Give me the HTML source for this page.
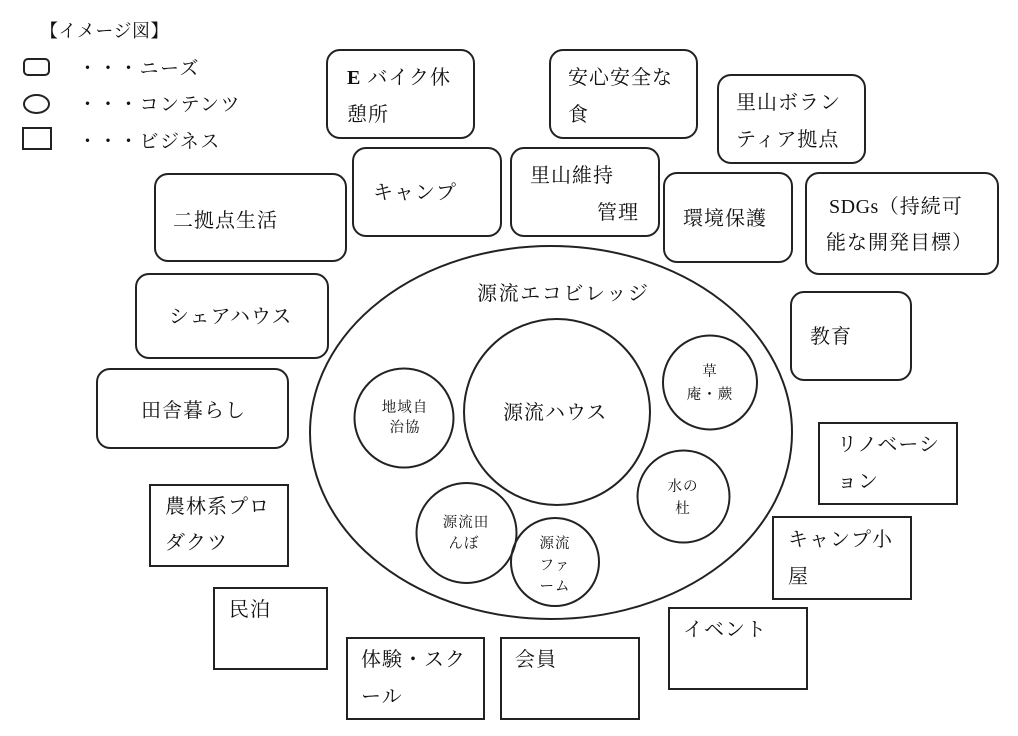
<!DOCTYPE html>
<html><head><meta charset="utf-8">
<style>
html,body{margin:0;padding:0;background:#fff;}
svg{display:block;}
text{font-family:"Liberation Serif","Noto Serif CJK SC",serif;fill:#111;}
.t{font-size:20px;letter-spacing:1px;}
.s{font-size:14.5px;letter-spacing:1px;}
.l{font-size:18px;letter-spacing:0.5px;}
</style></head>
<body>
<svg width="1018" height="736" viewBox="0 0 1018 736" xmlns="http://www.w3.org/2000/svg">
<g fill="none" stroke="#222" stroke-width="2">
  <!-- legend shapes -->
  <rect x="24" y="59" width="25" height="16" rx="4"/>
  <ellipse cx="36.5" cy="104" rx="12.5" ry="9"/>
  <rect x="23" y="128" width="28" height="21"/>
  <!-- rounded boxes -->
  <rect x="327" y="50" width="147" height="88" rx="13"/>
  <rect x="550" y="50" width="147" height="88" rx="13"/>
  <rect x="718" y="75" width="147" height="88" rx="13"/>
  <rect x="353" y="148" width="148" height="88" rx="13"/>
  <rect x="511" y="148" width="148" height="88" rx="13"/>
  <rect x="664" y="173" width="128" height="89" rx="13"/>
  <rect x="806" y="173" width="192" height="101" rx="13"/>
  <rect x="155" y="174" width="191" height="87" rx="13"/>
  <rect x="136" y="274" width="192" height="84" rx="13"/>
  <rect x="97" y="369" width="191" height="79" rx="13"/>
  <rect x="791" y="292" width="120" height="88" rx="13"/>
  <!-- square boxes -->
  <rect x="150" y="485" width="138" height="81"/>
  <rect x="214" y="588" width="113" height="81"/>
  <rect x="347" y="638" width="137" height="81"/>
  <rect x="501" y="638" width="138" height="81"/>
  <rect x="819" y="423" width="138" height="81"/>
  <rect x="773" y="517" width="138" height="82"/>
  <rect x="669" y="608" width="138" height="81"/>
  <!-- ellipse and circles -->
  <ellipse cx="551" cy="432.5" rx="241" ry="186.5"/>
  <circle cx="557" cy="412" r="93"/>
  <circle cx="404" cy="418" r="49.5"/>
  <circle cx="710" cy="382.5" r="47"/>
  <circle cx="683.5" cy="496.5" r="46"/>
  <circle cx="466.5" cy="533" r="50"/>
  <circle cx="555" cy="562" r="44"/>
</g>

<g dominant-baseline="central">
  <!-- legend -->
  <text class="l" x="40" y="31">【イメージ図】</text>
  <text class="t" x="78" y="69" style="font-size:19px;letter-spacing:1.5px">・・・ニーズ</text>
  <text class="t" x="78" y="105" style="font-size:19px;letter-spacing:1.5px">・・・コンテンツ</text>
  <text class="t" x="78" y="142" style="font-size:19px;letter-spacing:1.5px">・・・ビジネス</text>

  <!-- rounded boxes text -->
  <text class="t" x="347" y="78"><tspan font-weight="bold">E</tspan> バイク休</text>
  <text class="t" x="347" y="115">憩所</text>
  <text class="t" x="568" y="78">安心安全な</text>
  <text class="t" x="568" y="115">食</text>
  <text class="t" x="736" y="103">里山ボラン</text>
  <text class="t" x="736" y="140">ティア拠点</text>
  <text class="t" x="373" y="193">キャンプ</text>
  <text class="t" x="530" y="176">里山維持</text>
  <text class="t" x="597" y="213">管理</text>
  <text class="t" x="683" y="219">環境保護</text>
  <text class="t" x="829" y="207"><tspan style="letter-spacing:0.5px">SDGs</tspan>（持続可</text>
  <text class="t" x="826" y="243">能な開発目標）</text>
  <text class="t" x="173" y="221">二拠点生活</text>
  <text class="t" x="169" y="317">シェアハウス</text>
  <text class="t" x="141" y="411">田舎暮らし</text>
  <text class="t" x="810" y="337">教育</text>

  <!-- square boxes text -->
  <text class="t" x="165" y="507">農林系プロ</text>
  <text class="t" x="165" y="543">ダクツ</text>
  <text class="t" x="229" y="610">民泊</text>
  <text class="t" x="361" y="660">体験・スク</text>
  <text class="t" x="361" y="697">ール</text>
  <text class="t" x="515" y="660">会員</text>
  <text class="t" x="837" y="445">リノベーシ</text>
  <text class="t" x="837" y="482">ョン</text>
  <text class="t" x="788" y="540">キャンプ小</text>
  <text class="t" x="788" y="577">屋</text>
  <text class="t" x="683" y="630">イベント</text>

  <!-- ellipse & circles text -->
  <text class="t" x="477" y="294" style="letter-spacing:1.6px">源流エコビレッジ</text>
  <text class="t" x="503" y="413">源流ハウス</text>
  <g text-anchor="middle">
    <text class="s" x="405" y="408">地域自</text>
    <text class="s" x="405" y="428">治協</text>
    <text class="s" x="710" y="372">草</text>
    <text class="s" x="710" y="395">庵・蕨</text>
    <text class="s" x="683" y="487">水の</text>
    <text class="s" x="683" y="509">杜</text>
    <text class="s" x="466" y="523">源流田</text>
    <text class="s" x="464" y="544">んぼ</text>
    <text class="s" x="555" y="544">源流</text>
    <text class="s" x="555" y="566">ファ</text>
    <text class="s" x="555" y="587">ーム</text>
  </g>
</g>
</svg>
</body></html>
